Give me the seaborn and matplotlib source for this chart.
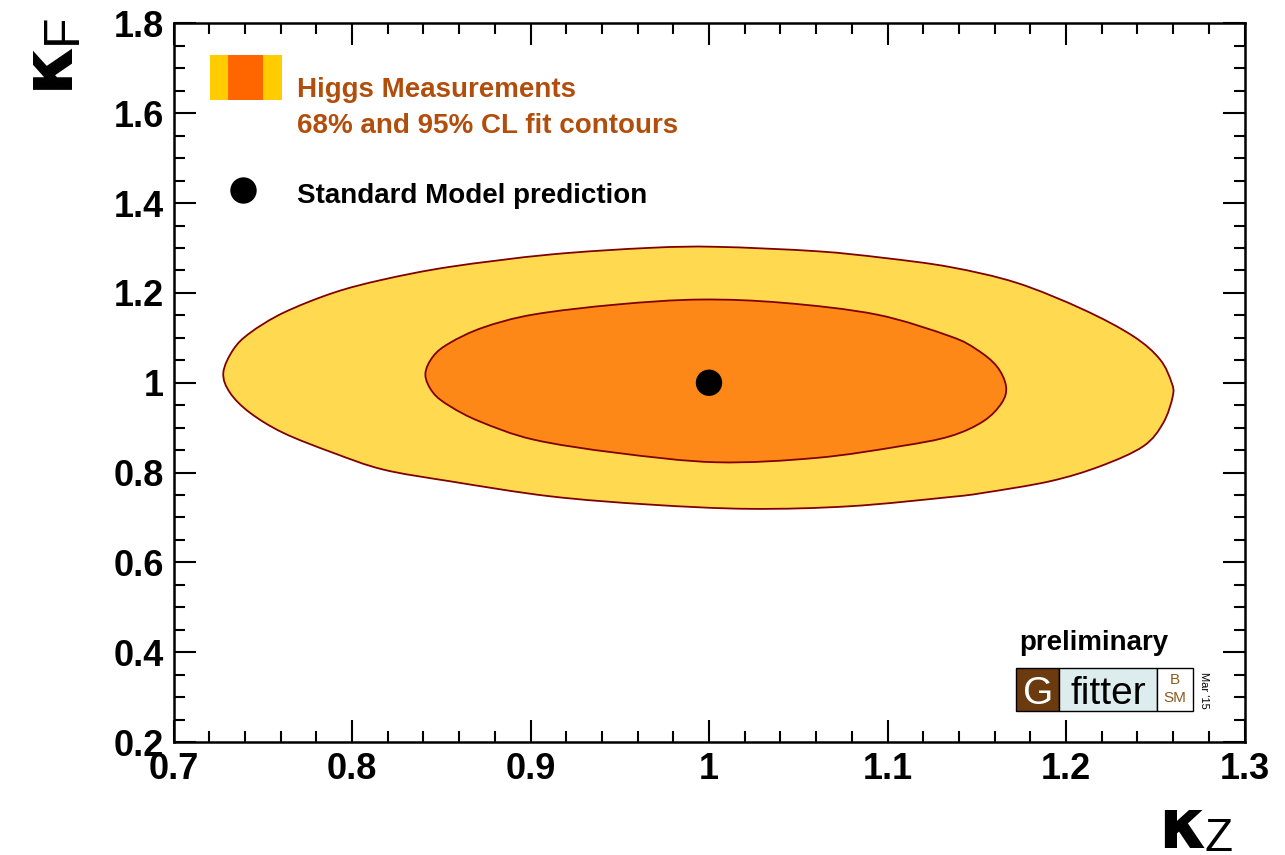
import numpy as np
import matplotlib.pyplot as plt
import seaborn as sns
from matplotlib.patches import Rectangle, PathPatch
from matplotlib.lines import Line2D
from matplotlib.path import Path
from matplotlib.ticker import MultipleLocator

# 95% CL contour (kappa_Z, kappa_F)
outer_kz = [0.7279, 0.7335, 0.7429, 0.7615, 0.7895, 0.8175, 0.8549, 0.9109, 0.9669,
            1.0043, 1.0603, 1.0976, 1.1350, 1.1724, 1.2097, 1.2377, 1.2527, 1.2592,
            1.2598, 1.2545, 1.2433, 1.2191, 1.1910, 1.1537, 1.1350, 1.0790, 1.0230,
            0.9669, 0.9109, 0.8549, 0.8175, 0.7895, 0.7615, 0.7429, 0.7317]
outer_kf = [1.0220, 1.0739, 1.1111, 1.1557, 1.2002, 1.2298, 1.2581, 1.2855, 1.3004,
            1.3027, 1.2929, 1.2782, 1.2577, 1.2225, 1.1630, 1.1036, 1.0517, 0.9998,
            0.9699, 0.9107, 0.8586, 0.8140, 0.7806, 0.7548, 0.7455, 0.7250, 0.7192,
            0.7287, 0.7472, 0.7806, 0.8067, 0.8439, 0.8884, 0.9330, 0.9775]

# 68% CL contour
inner_kz = [0.8411, 0.8455, 0.8549, 0.8734, 0.9016, 0.9483, 0.9950, 1.0416, 1.0939,
            1.1350, 1.1500, 1.1612, 1.1664, 1.1640, 1.1537, 1.1350, 1.1070, 1.0603,
            1.0043, 0.9483, 0.9016, 0.8717, 0.8549, 0.8455]
inner_kf = [1.0183, 1.0590, 1.0889, 1.1229, 1.1519, 1.1742, 1.1853, 1.1780, 1.1519,
            1.1036, 1.0739, 1.0367, 0.9922, 0.9552, 0.9143, 0.8808, 0.8586, 0.8327,
            0.8229, 0.8439, 0.8735, 0.9136, 0.9477, 0.9775]

# Standard Model prediction
sm_kz = [1.0]
sm_kf = [1.0]

x_ticks = [0.7, 0.8, 0.9, 1.0, 1.1, 1.2, 1.3]
x_tick_labels = ['0.7', '0.8', '0.9', '1', '1.1', '1.2', '1.3']
y_ticks = [0.2, 0.4, 0.6, 0.8, 1.0, 1.2, 1.4, 1.6, 1.8]
y_tick_labels = ['0.2', '0.4', '0.6', '0.8', '1', '1.2', '1.4', '1.6', '1.8']

legend_labels = ['Higgs Measurements', '68% and 95% CL fit contours',
                 'Standard Model prediction']

W, H = 1285, 855


def fpos(x, y):
    # pixel position -> figure fraction
    return x / W, 1 - y / H


def closed_curve(xs, ys):
    # smooth closed path through the read points (Catmull-Rom as cubic Bezier)
    p = np.column_stack([xs, ys])
    n = len(p)
    verts = [p[0]]
    codes = [Path.MOVETO]
    for i in range(n):
        p0, p1, p2, p3 = p[i - 1], p[i], p[(i + 1) % n], p[(i + 2) % n]
        verts += [p1 + (p2 - p0) / 6, p2 - (p3 - p1) / 6, p2]
        codes += [Path.CURVE4] * 3
    return Path(verts, codes)


sns.set_theme(style='ticks')
plt.rcParams['font.family'] = ['Liberation Sans', 'DejaVu Sans']
plt.rcParams['font.weight'] = 'bold'
plt.rcParams['text.color'] = 'black'
plt.rcParams['xtick.color'] = 'black'
plt.rcParams['ytick.color'] = 'black'

fig = plt.figure(figsize=(12.85, 8.55), dpi=100)
ax = fig.add_axes([173.5 / W, 113 / H, 1071 / W, 718.5 / H])

# filled contours with outline
ax.add_patch(PathPatch(closed_curve(outer_kz, outer_kf), facecolor='#FFDA50',
                       edgecolor='#800000', lw=1.3, zorder=1))
ax.add_patch(PathPatch(closed_curve(inner_kz, inner_kf), facecolor='#FD8818',
                       edgecolor='#800000', lw=1.3, zorder=2))

sns.scatterplot(x=sm_kz, y=sm_kf, s=19 ** 2, color='black', edgecolor='none',
                zorder=4, ax=ax)

ax.set_xlim(0.7, 1.3)
ax.set_ylim(0.2, 1.8)
ax.set_xticks(x_ticks, x_tick_labels)
ax.set_yticks(y_ticks, y_tick_labels)
ax.xaxis.set_minor_locator(MultipleLocator(0.02))
ax.yaxis.set_minor_locator(MultipleLocator(0.05))
ax.tick_params(which='both', direction='in', top=True, right=True, width=1.5,
               color='black', labelcolor='black', labelsize=26)
ax.tick_params(which='major', length=16, pad=7)
ax.tick_params(which='minor', length=8)
for s in ax.spines.values():
    s.set_linewidth(1.8)
    s.set_color('black')
ax.set_xlabel('')
ax.set_ylabel('')

# axis titles: kappa with a subscript
fig.text(*fpos(1158, 848), 'κ', family='DejaVu Sans', fontsize=50,
         ha='left', va='baseline')
fig.text(*fpos(1205, 851), 'Z', fontsize=33, fontweight='normal',
         ha='left', va='baseline')
fig.text(*fpos(67, 89), 'κ', family='DejaVu Sans', fontsize=52, rotation=90,
         rotation_mode='anchor', ha='left', va='baseline')
fig.text(*fpos(76, 44), 'F', fontsize=36, fontweight='normal', rotation=90,
         rotation_mode='anchor', ha='left', va='baseline')

# legend
fig.add_artist(Rectangle(fpos(210, 100), 72 / W, 45 / H, transform=fig.transFigure,
                         color='#FFCC00', lw=0))
fig.add_artist(Rectangle(fpos(227.7, 100), 35.6 / W, 45 / H, transform=fig.transFigure,
                         color='#FF6600', lw=0))
fig.text(*fpos(297, 97), legend_labels[0], fontsize=20, color='#B24E0C', va='baseline')
fig.text(*fpos(297, 133), legend_labels[1], fontsize=20, color='#B24E0C', va='baseline')
lx, ly = fpos(243, 190)
fig.add_artist(Line2D([lx], [ly], marker='o', markersize=19, color='black',
                      markeredgewidth=0, transform=fig.transFigure))
fig.text(*fpos(297, 203), legend_labels[2], fontsize=20, color='black', va='baseline')

# preliminary + Gfitter logo
fig.text(*fpos(1094, 650), 'preliminary', fontsize=20, ha='center', va='baseline')
fig.add_artist(Rectangle(fpos(1016, 711), 43 / W, 43 / H, transform=fig.transFigure,
                         facecolor='#6B3A0E', edgecolor='black', lw=1))
fig.add_artist(Rectangle(fpos(1059, 711), 98 / W, 43 / H, transform=fig.transFigure,
                         facecolor='#DDEDED', edgecolor='black', lw=1))
fig.add_artist(Rectangle(fpos(1157, 711), 36 / W, 43 / H, transform=fig.transFigure,
                         facecolor='white', edgecolor='black', lw=1))
fig.text(*fpos(1038, 704), 'G', fontsize=28, fontweight='normal', color='white',
         ha='center', va='baseline')
fig.text(*fpos(1108, 704), 'fitter', fontsize=28, fontweight='normal', color='black',
         ha='center', va='baseline')
fig.text(*fpos(1175, 680), 'B', fontsize=11, fontweight='normal', color='#8B5A1E',
         ha='center', va='center')
fig.text(*fpos(1175, 698), 'SM', fontsize=11, fontweight='normal', color='#8B5A1E',
         ha='center', va='center')
fig.text(*fpos(1204, 690), "Mar '15", fontsize=8, fontweight='normal', rotation=-90,
         ha='center', va='center')

fig.savefig('out.png', dpi=100)
